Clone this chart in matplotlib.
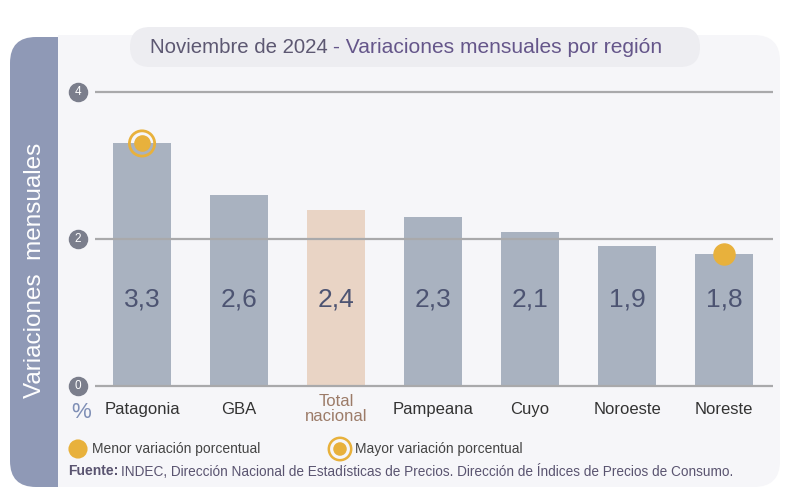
import matplotlib.pyplot as plt
from matplotlib.patches import FancyBboxPatch, Rectangle

plt.rcParams['font.family'] = ['Liberation Sans', 'DejaVu Sans']

# data
regions = ["Patagonia", "GBA", "Total\nnacional", "Pampeana", "Cuyo", "Noroeste", "Noreste"]
values = [3.3, 2.6, 2.4, 2.3, 2.1, 1.9, 1.8]
value_labels = ["3,3", "2,6", "2,4", "2,3", "2,1", "1,9", "1,8"]
y_ticks = [0, 2, 4]
total_name = "Total\nnacional"

bar_color = "#a9b2c0"
total_color = "#e9d4c5"
dot_color = "#e8b13c"
stripe_color = "#8f99b6"
panel_color = "#f6f6f9"

fig = plt.figure(figsize=(8, 5.03), dpi=100)
fig.patch.set_facecolor("white")

# background panel drawn in pixel units
bg = fig.add_axes([0, 0, 1, 1], zorder=0)
bg.set_xlim(0, 800)
bg.set_ylim(503, 0)
bg.axis("off")
bg.add_patch(FancyBboxPatch((10, 37), 120, 450, boxstyle="round,pad=0,rounding_size=26",
                            fc=stripe_color, ec="none"))
bg.add_patch(FancyBboxPatch((58, 35), 722, 452, boxstyle="round,pad=0,rounding_size=26",
                            fc=panel_color, ec="none"))
bg.add_patch(Rectangle((58, 35), 40, 452, fc=panel_color, ec="none"))
bg.add_patch(FancyBboxPatch((130, 27), 570, 40, boxstyle="round,pad=0,rounding_size=20",
                            fc="#ededf1", ec="none"))

bg.text(150, 47, "Noviembre de 2024", ha="left", va="center", fontsize=14.7,
        color="#5d5872")
bg.text(333, 47, "- Variaciones mensuales por región", ha="left", va="center",
        fontsize=15.1, color="#65568a")
bg.text(35, 270, "Variaciones  mensuales", rotation=90, ha="center", va="center",
        fontsize=17.5, color="white")
bg.text(81, 412, "%", ha="center", va="center", fontsize=16, color="#7f8fb6")

# legend and source
bg.scatter([78], [449], s=190, color=dot_color, edgecolors="none")
bg.text(92, 449, "Menor variación porcentual", ha="left", va="center", fontsize=10,
        color="#444444")
bg.scatter([340], [449], s=260, facecolors="none", edgecolors=dot_color, linewidths=1.8)
bg.scatter([340], [449], s=95, color=dot_color, edgecolors="none")
bg.text(355, 449, "Mayor variación porcentual", ha="left", va="center", fontsize=10,
        color="#444444")
bg.text(68, 471, "Fuente:", ha="left", va="center", fontsize=10, color="#5a5470",
        fontweight="bold")
bg.text(121, 471, "INDEC, Dirección Nacional de Estadísticas de Precios. Dirección de Índices "
        "de Precios de Consumo.", ha="left", va="center", fontsize=9.8, color="#5a5470")

# main chart
ax = fig.add_axes([0.11875, 0.218, 0.8475, 0.6283], zorder=2)
ax.patch.set_alpha(0)
x = list(range(len(regions)))
colors = [total_color if r == total_name else bar_color for r in regions]
ax.bar(x, values, width=0.6, color=colors, zorder=1)
for t in y_ticks:
    ax.axhline(t, color="#a9a9ab", lw=1.6, zorder=2)
ax.set_xlim(-0.485, 6.505)
ax.set_ylim(-0.1, 4.2)

for xi, lab in zip(x, value_labels):
    ax.text(xi, 1.18, lab, ha="center", va="center", fontsize=19, color="#4d5472", zorder=3)

# category labels under the bars
xtr = ax.get_xaxis_transform()
for xi, name in zip(x, regions):
    col = "#9c7b68" if name == total_name else "#333333"
    ax.text(xi, -0.05, name, transform=xtr, ha="center", va="center", fontsize=12,
            color=col, linespacing=0.95)

# tick badges
ytr = ax.get_yaxis_transform()
for t in y_ticks:
    ax.scatter([-0.025], [t], s=170, color="#7b7e8c", transform=ytr, clip_on=False, zorder=4)
    ax.text(-0.025, t, str(t), transform=ytr, ha="center", va="center", fontsize=8.5,
            color="white", zorder=5)

# highest / lowest markers
imax = values.index(max(values))
imin = values.index(min(values))
ax.scatter([imax], [values[imax]], s=330, facecolors="none", edgecolors=dot_color,
           linewidths=2, zorder=4, clip_on=False)
ax.scatter([imax], [values[imax]], s=120, color=dot_color, zorder=4, clip_on=False)
ax.scatter([imin], [values[imin]], s=230, color=dot_color, zorder=4, clip_on=False)

ax.set_xticks([])
ax.set_yticks([])
for s in ax.spines.values():
    s.set_visible(False)

fig.savefig("out.png", dpi=100, facecolor="white")
